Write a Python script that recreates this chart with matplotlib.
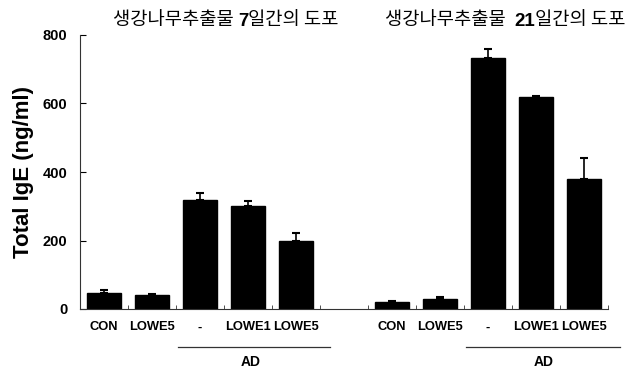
import numpy as np
import matplotlib.pyplot as plt
from matplotlib.ticker import FixedLocator

# data
groups = ['CON', 'LOWE5', '-', 'LOWE1', 'LOWE5']
ige_7d = [48, 42, 318, 300, 199]
err_7d = [8, 3, 20, 16, 24]
ige_21d = [20, 28, 732, 619, 379]
err_21d = [3, 7, 26, 3, 61]
title_7d = ['생강나무추출물 ', '7', '일간의 도포']
title_21d = ['생강나무추출물  ', '21', '일간의 도포']

num_font = ['Liberation Sans Narrow', 'Liberation Sans', 'DejaVu Sans']
kr_font = ['Noto Sans CJK KR', 'DejaVu Sans']

fig = plt.figure(figsize=(6.37, 3.71), dpi=100)
ax = fig.add_axes([80 / 637, 1 - 309 / 371, 528 / 637, 274 / 371])

x7 = np.arange(5)
x21 = np.arange(5) + 6
vals = ige_7d + ige_21d
errs = err_7d + err_21d
xs = np.concatenate([x7, x21])
ax.bar(xs, vals, width=0.7, color='black', edgecolor='black',
       yerr=[np.zeros(len(errs)), errs],
       error_kw=dict(ecolor='black', elinewidth=1.2, capsize=3, capthick=1.5))

ax.set_xlim(-0.5, 10.5)
ax.set_ylim(0, 800)
for s in ['top', 'right']:
    ax.spines[s].set_visible(False)
ax.spines['left'].set_color('#333333')
ax.spines['bottom'].set_color('#333333')

ax.set_yticks([0, 200, 400, 600, 800])
ax.tick_params(axis='y', direction='in', length=4, pad=9, labelsize=10.5)
for lab in ax.get_yticklabels():
    lab.set_family(num_font)
    lab.set_fontweight('bold')

ax.set_xticks(xs, groups * 2)
ax.tick_params(axis='x', which='major', length=0, pad=9, labelsize=9.3)
for lab in ax.get_xticklabels():
    lab.set_family(num_font)
    lab.set_fontweight('bold')
ax.xaxis.set_minor_locator(FixedLocator(np.arange(0.5, 11, 1.0)))
ax.tick_params(axis='x', which='minor', direction='in', length=3, color='#333333')

ax.set_ylabel('Total IgE (ng/ml)', fontsize=16, fontweight='bold',
              family=['Liberation Sans', 'DejaVu Sans'], labelpad=6)

# AD brackets under the treated groups
trans = ax.get_xaxis_transform()
for x0, x1, xc in [(1.55, 4.7, 3.05), (7.55, 10.75, 9.15)]:
    ax.plot([x0, x1], [-0.139, -0.139], color='#333333', lw=0.9,
            transform=trans, clip_on=False)
    ax.text(xc, -0.193, 'AD', transform=trans, ha='center', va='center',
            fontsize=10, fontweight='bold', family=num_font)

# titles with bold day number
def title(parts, x, y):
    t = fig.text(x, y, parts[0], fontsize=13.5, family=kr_font, va='baseline')
    t = ax.annotate(parts[1], xy=(1, 0), xycoords=t, va='bottom',
                    fontsize=13.5, fontweight='bold',
                    family=['Liberation Sans', 'DejaVu Sans'])
    ax.annotate(parts[2], xy=(1, 0), xycoords=t, va='bottom',
                fontsize=13.5, family=kr_font)

title(title_7d, 113 / 637, 1 - 25 / 371)
title(title_21d, 385 / 637, 1 - 25 / 371)

fig.savefig('out.png', dpi=100)
